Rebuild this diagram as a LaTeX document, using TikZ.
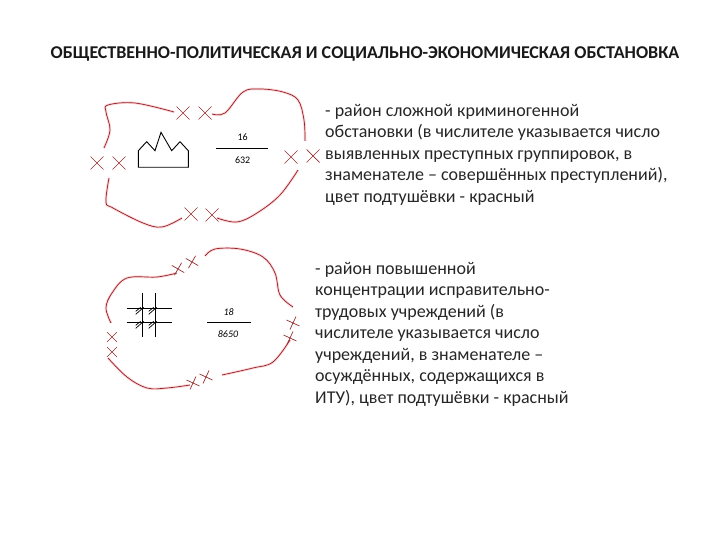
\documentclass[tikz,border=0pt]{standalone}
\usepackage{fontspec}
\setmainfont{Carlito}
\definecolor{zoneline}{RGB}{150,30,40}
\definecolor{zonehalo}{RGB}{250,215,215}
\definecolor{crossline}{RGB}{150,45,45}
\tikzset{
  zone/.style={draw=zoneline, line width=0.7pt, smooth, tension=0.6, preaction={draw=zonehalo, line width=2.6pt}},
  crossmark/.style={draw=crossline, line width=0.7pt},
  iconline/.style={draw=black, line width=0.9pt},
  fracline/.style={draw=black, line width=0.8pt},
  fracnum/.style={inner sep=0pt, font=\fontsize{10}{12}\selectfont},
  legend/.style={inner sep=0pt, anchor=north west, align=left, font=\fontsize{18}{21.5}\selectfont, text=black!85}
}
\begin{document}
\begin{tikzpicture}[x=1pt, y=-1pt]

    \useasboundingbox (0,0) rectangle (720,540);

    % Title
    \node [inner sep=0pt, font=\fontsize{18}{22}\selectfont\bfseries, text=black!90] (title) at (365,54) {ОБЩЕСТВЕННО-ПОЛИТИЧЕСКАЯ И СОЦИАЛЬНО-ЭКОНОМИЧЕСКАЯ ОБСТАНОВКА};

    % Upper zone
    \draw [zone] plot coordinates {(174,112) (135,103) (108,105) (106,112) (110,130) (104,148)};
    \draw [zone] plot coordinates {(212,114) (225,113) (243,92) (260,89) (283,92) (298,100) (304,120) (305,141)};
    \draw [zone] plot coordinates {(298,170) (280,195) (257,213) (237,222) (217,218)};
    \draw [zone] plot coordinates {(182,218) (162,227) (143,223) (113,208) (106,202) (109,178)};
    \foreach \cx/\cy in {183/113, 205/113, 97/163, 119/163, 291/157, 313/156, 191/214, 212/215} {
        \draw [crossmark] (\cx-6.5,\cy-6.5) -- (\cx+6.5,\cy+6.5) (\cx-6.5,\cy+6.5) -- (\cx+6.5,\cy-6.5);
    }
    \draw [iconline] (138.3,167.3) -- (188.3,167.3) -- (188.3,150.7) -- (180,141.7) -- (171.7,150.7) -- (161,132.3) -- (155,150.7) -- (146.7,141.7) -- (138.3,150.7) -- cycle;

    % Upper fraction
    \draw [fracline] (216,148.3) -- (268.3,148.3);
    \node [fracnum] (upper_num) at (242.7,137.3) {16};
    \node [fracnum] (upper_den) at (242.7,160.3) {632};

    % Lower zone
    \draw [zone] plot coordinates {(111,323) (106,308) (112,293) (127,278) (157,277) (177,273)};
    \draw [zone] plot coordinates {(205,256) (215,249) (240,249) (263,257) (275,273) (280,295) (293,307)};
    \draw [zone] plot coordinates {(290,340) (273,362) (253,368) (222,375)};
    \draw [zone] plot coordinates {(190,385) (167,388) (147,388) (127,377) (108,358)};
    \foreach \cx/\cy/\ca in {178/269/15, 192/262/15, 112/337/0, 112/352/0, 293/323/20, 290/338/20, 193/383/20, 206/377/20} {
        \draw [crossmark, rotate around={\ca:(\cx,\cy)}] (\cx-5,\cy-5) -- (\cx+5,\cy+5) (\cx-5,\cy+5) -- (\cx+5,\cy-5);
    }
    \foreach \gx in {142.7,155.7} {
        \draw [iconline] (\gx,293.3) -- (\gx,337.3);
        \foreach \gy in {308.3,322.3} {
            \draw [iconline, line width=0.7pt] (\gx-7,\gy+6) -- (\gx+1,\gy-1) (\gx-7,\gy+3) -- (\gx-2,\gy-1);
        }
    }
    \foreach \gy in {308.3,322.3} {
        \draw [iconline] (126.7,\gy) -- (171.7,\gy);
    }

    % Lower fraction
    \draw [fracline] (207.3,322.3) -- (251,322.3);
    \node [fracnum, font=\fontsize{10}{12}\selectfont\itshape] (lower_num) at (228.7,311.7) {18};
    \node [fracnum, font=\fontsize{10}{12}\selectfont\itshape] (lower_den) at (228,334.3) {8650};

    % Legends
    \node [legend] (upper_text) at (325,104) {- район сложной криминогенной\\обстановки (в числителе указывается число\\выявленных преступных группировок, в\\знаменателе – совершённых преступлений),\\цвет подтушёвки - красный};
    \node [legend] (lower_text) at (315,262) {- район повышенной\\концентрации исправительно-\\трудовых учреждений (в\\числителе указывается число\\учреждений, в знаменателе –\\осуждённых, содержащихся в\\ИТУ), цвет подтушёвки - красный};
\end{tikzpicture}
\end{document}
